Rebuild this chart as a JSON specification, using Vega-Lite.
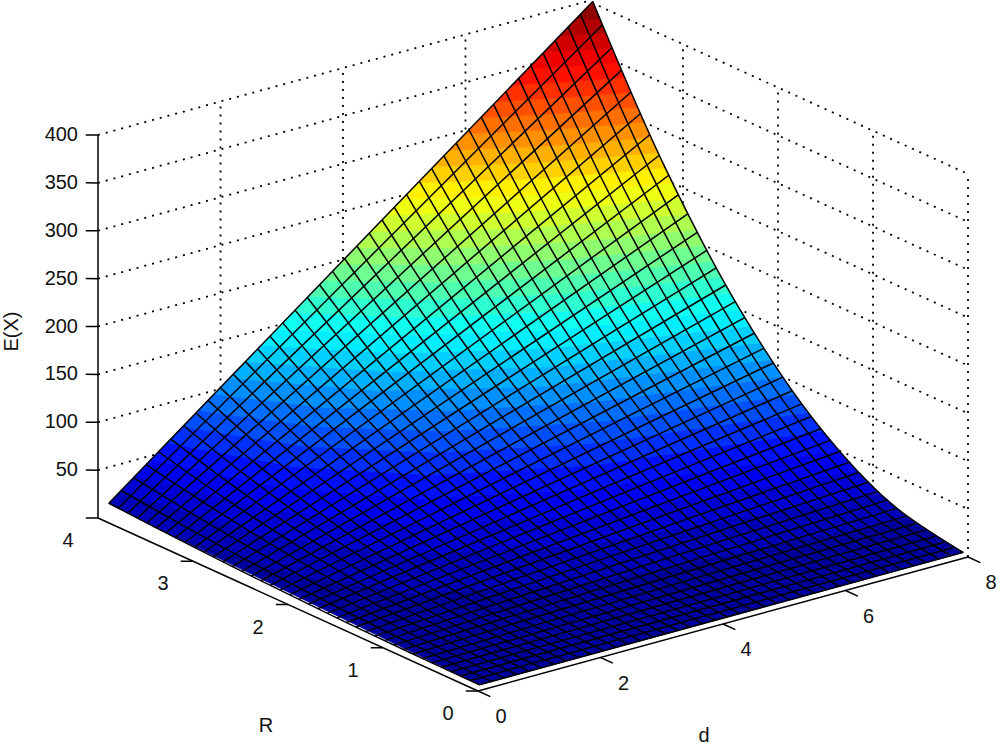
{"$schema":"https://vega.github.io/schema/vega-lite/v6.json","width":1000,"height":745,"padding":0,"autosize":"none","background":"white","config":{"view":{"stroke":null}},
"data":{"values":[
{"w":"h50","d":0,"R":4,"E":50},{"w":"h50","d":8,"R":4,"E":50},{"w":"h50","d":8,"R":0,"E":50},
{"w":"h100","d":0,"R":4,"E":100},{"w":"h100","d":8,"R":4,"E":100},{"w":"h100","d":8,"R":0,"E":100},
{"w":"h150","d":0,"R":4,"E":150},{"w":"h150","d":8,"R":4,"E":150},{"w":"h150","d":8,"R":0,"E":150},
{"w":"h200","d":0,"R":4,"E":200},{"w":"h200","d":8,"R":4,"E":200},{"w":"h200","d":8,"R":0,"E":200},
{"w":"h250","d":0,"R":4,"E":250},{"w":"h250","d":8,"R":4,"E":250},{"w":"h250","d":8,"R":0,"E":250},
{"w":"h300","d":0,"R":4,"E":300},{"w":"h300","d":8,"R":4,"E":300},{"w":"h300","d":8,"R":0,"E":300},
{"w":"h350","d":0,"R":4,"E":350},{"w":"h350","d":8,"R":4,"E":350},{"w":"h350","d":8,"R":0,"E":350},
{"w":"h400","d":0,"R":4,"E":400},{"w":"h400","d":8,"R":4,"E":400},{"w":"h400","d":8,"R":0,"E":400},
{"w":"v1","d":2,"R":4,"E":0},{"w":"v1","d":2,"R":4,"E":400},
{"w":"v2","d":4,"R":4,"E":0},{"w":"v2","d":4,"R":4,"E":400},
{"w":"v3","d":6,"R":4,"E":0},{"w":"v3","d":6,"R":4,"E":400},
{"w":"v4","d":8,"R":4,"E":0},{"w":"v4","d":8,"R":4,"E":400},
{"w":"v5","d":8,"R":3,"E":0},{"w":"v5","d":8,"R":3,"E":400},
{"w":"v6","d":8,"R":2,"E":0},{"w":"v6","d":8,"R":2,"E":400},
{"w":"v7","d":8,"R":1,"E":0},{"w":"v7","d":8,"R":1,"E":400},
{"w":"v8","d":8,"R":0,"E":0},{"w":"v8","d":8,"R":0,"E":400},
{"a":"ze","d":0,"R":4,"E":0},{"a":"ze","d":0,"R":4,"E":400},
{"a":"re","d":0,"R":0,"E":0},{"a":"re","d":0,"R":4,"E":0},
{"a":"de","d":0,"R":0,"E":0},{"a":"de","d":8,"R":0,"E":0},
{"a":"z0","d":0,"R":4,"E":0},{"a":"z0","d":-0.2,"R":4,"E":3.5},
{"a":"z50","d":0,"R":4,"E":50},{"a":"z50","d":-0.2,"R":4,"E":53.5},
{"a":"z100","d":0,"R":4,"E":100},{"a":"z100","d":-0.2,"R":4,"E":103.5},
{"a":"z150","d":0,"R":4,"E":150},{"a":"z150","d":-0.2,"R":4,"E":153.5},
{"a":"z200","d":0,"R":4,"E":200},{"a":"z200","d":-0.2,"R":4,"E":203.5},
{"a":"z250","d":0,"R":4,"E":250},{"a":"z250","d":-0.2,"R":4,"E":253.5},
{"a":"z300","d":0,"R":4,"E":300},{"a":"z300","d":-0.2,"R":4,"E":303.5},
{"a":"z350","d":0,"R":4,"E":350},{"a":"z350","d":-0.2,"R":4,"E":353.5},
{"a":"z400","d":0,"R":4,"E":400},{"a":"z400","d":-0.2,"R":4,"E":403.5},
{"a":"r0","d":0,"R":0,"E":0},{"a":"r0","d":-0.2,"R":0,"E":3.5},
{"a":"r1","d":0,"R":1,"E":0},{"a":"r1","d":-0.2,"R":1,"E":3.5},
{"a":"r2","d":0,"R":2,"E":0},{"a":"r2","d":-0.2,"R":2,"E":3.5},
{"a":"r3","d":0,"R":3,"E":0},{"a":"r3","d":-0.2,"R":3,"E":3.5},
{"a":"d0","d":0,"R":0,"E":0},{"a":"d0","d":0,"R":-0.13,"E":0},
{"a":"d2","d":2,"R":0,"E":0},{"a":"d2","d":2,"R":-0.13,"E":0},
{"a":"d4","d":4,"R":0,"E":0},{"a":"d4","d":4,"R":-0.13,"E":0},
{"a":"d6","d":6,"R":0,"E":0},{"a":"d6","d":6,"R":-0.13,"E":0},
{"a":"d8","d":8,"R":0,"E":0},{"a":"d8","d":8,"R":-0.13,"E":0},
{"t":"E","d":0,"R":4,"E":50,"l":"50"},{"t":"E","d":0,"R":4,"E":100,"l":"100"},{"t":"E","d":0,"R":4,"E":150,"l":"150"},{"t":"E","d":0,"R":4,"E":200,"l":"200"},{"t":"E","d":0,"R":4,"E":250,"l":"250"},{"t":"E","d":0,"R":4,"E":300,"l":"300"},{"t":"E","d":0,"R":4,"E":350,"l":"350"},{"t":"E","d":0,"R":4,"E":400,"l":"400"},
{"t":"R","d":0,"R":0,"E":0,"l":"0"},{"t":"R","d":0,"R":1,"E":0,"l":"1"},{"t":"R","d":0,"R":2,"E":0,"l":"2"},{"t":"R","d":0,"R":3,"E":0,"l":"3"},{"t":"R","d":0,"R":4,"E":0,"l":"4"},
{"t":"d","d":0,"R":0,"E":0,"l":"0"},{"t":"d","d":2,"R":0,"E":0,"l":"2"},{"t":"d","d":4,"R":0,"E":0,"l":"4"},{"t":"d","d":6,"R":0,"E":0,"l":"6"},{"t":"d","d":8,"R":0,"E":0,"l":"8"},
{"t":"tR","d":0,"R":2,"E":0,"l":"R"},{"t":"td","d":4,"R":0,"E":0,"l":"d"},{"t":"tE","d":0,"R":4,"E":200,"l":"E(X)"},
{"b":0,"d":0.1,"R":0.05,"E":2.5},{"b":0,"d":8,"R":0.05,"E":2.5},{"b":0,"d":8,"R":0.625,"E":12.5},{"b":0,"d":3.33,"R":0.955,"E":12.5},{"b":0,"d":1.323,"R":1.46,"E":12.5},{"b":0,"d":0.466,"R":2.231,"E":12.5},{"b":0,"d":0.1,"R":3.41,"E":12.5},
{"b":12.5,"d":0.1,"R":3.41,"E":12.5},{"b":12.5,"d":0.466,"R":2.231,"E":12.5},{"b":12.5,"d":1.323,"R":1.46,"E":12.5},{"b":12.5,"d":3.33,"R":0.955,"E":12.5},{"b":12.5,"d":8,"R":0.625,"E":12.5},{"b":12.5,"d":8,"R":0.938,"E":25},{"b":12.5,"d":3.81,"R":1.343,"E":25},{"b":12.5,"d":1.77,"R":1.924,"E":25},{"b":12.5,"d":0.77,"R":2.757,"E":25},{"b":12.5,"d":0.285,"R":3.95,"E":25},{"b":12.5,"d":0.1,"R":3.95,"E":15.92},
{"b":25,"d":0.285,"R":3.95,"E":25},{"b":25,"d":0.77,"R":2.757,"E":25},{"b":25,"d":1.77,"R":1.924,"E":25},{"b":25,"d":3.81,"R":1.343,"E":25},{"b":25,"d":8,"R":0.938,"E":25},{"b":25,"d":8,"R":1.17,"E":37.5},{"b":25,"d":4.27,"R":1.585,"E":37.5},{"b":25,"d":2.25,"R":2.149,"E":37.5},{"b":25,"d":1.14,"R":2.914,"E":37.5},{"b":25,"d":0.54,"R":3.95,"E":37.5},
{"b":37.5,"d":0.54,"R":3.95,"E":37.5},{"b":37.5,"d":1.14,"R":2.914,"E":37.5},{"b":37.5,"d":2.25,"R":2.149,"E":37.5},{"b":37.5,"d":4.27,"R":1.585,"E":37.5},{"b":37.5,"d":8,"R":1.17,"E":37.5},{"b":37.5,"d":8,"R":1.362,"E":50},{"b":37.5,"d":4.63,"R":1.777,"E":50},{"b":37.5,"d":2.65,"R":2.319,"E":50},{"b":37.5,"d":1.48,"R":3.025,"E":50},{"b":37.5,"d":0.797,"R":3.95,"E":50},
{"b":50,"d":0.797,"R":3.95,"E":50},{"b":50,"d":1.48,"R":3.025,"E":50},{"b":50,"d":2.65,"R":2.319,"E":50},{"b":50,"d":4.63,"R":1.777,"E":50},{"b":50,"d":8,"R":1.362,"E":50},{"b":50,"d":8,"R":1.531,"E":62.5},{"b":50,"d":4.91,"R":1.941,"E":62.5},{"b":50,"d":2.99,"R":2.459,"E":62.5},{"b":50,"d":1.8,"R":3.116,"E":62.5},{"b":50,"d":1.053,"R":3.95,"E":62.5},
{"b":62.5,"d":1.053,"R":3.95,"E":62.5},{"b":62.5,"d":1.8,"R":3.116,"E":62.5},{"b":62.5,"d":2.99,"R":2.459,"E":62.5},{"b":62.5,"d":4.91,"R":1.941,"E":62.5},{"b":62.5,"d":8,"R":1.531,"E":62.5},{"b":62.5,"d":8,"R":1.683,"E":75},{"b":62.5,"d":5.16,"R":2.083,"E":75},{"b":62.5,"d":3.31,"R":2.578,"E":75},{"b":62.5,"d":2.1,"R":3.191,"E":75},{"b":62.5,"d":1.309,"R":3.95,"E":75},
{"b":75,"d":1.309,"R":3.95,"E":75},{"b":75,"d":2.1,"R":3.191,"E":75},{"b":75,"d":3.31,"R":2.578,"E":75},{"b":75,"d":5.16,"R":2.083,"E":75},{"b":75,"d":8,"R":1.683,"E":75},{"b":75,"d":8,"R":1.823,"E":87.5},{"b":75,"d":5.38,"R":2.211,"E":87.5},{"b":75,"d":3.6,"R":2.683,"E":87.5},{"b":75,"d":2.39,"R":3.256,"E":87.5},{"b":75,"d":1.565,"R":3.95,"E":87.5},
{"b":87.5,"d":1.565,"R":3.95,"E":87.5},{"b":87.5,"d":2.39,"R":3.256,"E":87.5},{"b":87.5,"d":3.6,"R":2.683,"E":87.5},{"b":87.5,"d":5.38,"R":2.211,"E":87.5},{"b":87.5,"d":8,"R":1.823,"E":87.5},{"b":87.5,"d":8,"R":1.952,"E":100},{"b":87.5,"d":5.57,"R":2.328,"E":100},{"b":87.5,"d":3.87,"R":2.776,"E":100},{"b":87.5,"d":2.66,"R":3.312,"E":100},{"b":87.5,"d":1.821,"R":3.95,"E":100},
{"b":100,"d":1.821,"R":3.95,"E":100},{"b":100,"d":2.66,"R":3.312,"E":100},{"b":100,"d":3.87,"R":2.776,"E":100},{"b":100,"d":5.57,"R":2.328,"E":100},{"b":100,"d":8,"R":1.952,"E":100},{"b":100,"d":8,"R":2.073,"E":112.5},{"b":100,"d":5.15,"R":2.57,"E":112.5},{"b":100,"d":3.29,"R":3.186,"E":112.5},{"b":100,"d":2.077,"R":3.95,"E":112.5},
{"b":112.5,"d":2.077,"R":3.95,"E":112.5},{"b":112.5,"d":3.29,"R":3.186,"E":112.5},{"b":112.5,"d":5.15,"R":2.57,"E":112.5},{"b":112.5,"d":8,"R":2.073,"E":112.5},{"b":112.5,"d":8,"R":2.188,"E":125},{"b":112.5,"d":5.34,"R":2.663,"E":125},{"b":112.5,"d":3.55,"R":3.243,"E":125},{"b":112.5,"d":2.333,"R":3.95,"E":125},
{"b":125,"d":2.333,"R":3.95,"E":125},{"b":125,"d":3.55,"R":3.243,"E":125},{"b":125,"d":5.34,"R":2.663,"E":125},{"b":125,"d":8,"R":2.188,"E":125},{"b":125,"d":8,"R":2.297,"E":137.5},{"b":125,"d":5.52,"R":2.752,"E":137.5},{"b":125,"d":3.79,"R":3.297,"E":137.5},{"b":125,"d":2.589,"R":3.95,"E":137.5},
{"b":137.5,"d":2.589,"R":3.95,"E":137.5},{"b":137.5,"d":3.79,"R":3.297,"E":137.5},{"b":137.5,"d":5.52,"R":2.752,"E":137.5},{"b":137.5,"d":8,"R":2.297,"E":137.5},{"b":137.5,"d":8,"R":2.401,"E":150},{"b":137.5,"d":5.69,"R":2.834,"E":150},{"b":137.5,"d":4.04,"R":3.345,"E":150},{"b":137.5,"d":2.845,"R":3.95,"E":150},
{"b":150,"d":2.845,"R":3.95,"E":150},{"b":150,"d":4.04,"R":3.345,"E":150},{"b":150,"d":5.69,"R":2.834,"E":150},{"b":150,"d":8,"R":2.401,"E":150},{"b":150,"d":8,"R":2.5,"E":162.5},{"b":150,"d":5.85,"R":2.913,"E":162.5},{"b":150,"d":4.27,"R":3.391,"E":162.5},{"b":150,"d":3.101,"R":3.95,"E":162.5},
{"b":162.5,"d":3.101,"R":3.95,"E":162.5},{"b":162.5,"d":4.27,"R":3.391,"E":162.5},{"b":162.5,"d":5.85,"R":2.913,"E":162.5},{"b":162.5,"d":8,"R":2.5,"E":162.5},{"b":162.5,"d":8,"R":2.596,"E":175},{"b":162.5,"d":6.01,"R":2.986,"E":175},{"b":162.5,"d":4.5,"R":3.434,"E":175},{"b":162.5,"d":3.357,"R":3.95,"E":175},
{"b":175,"d":3.357,"R":3.95,"E":175},{"b":175,"d":4.5,"R":3.434,"E":175},{"b":175,"d":6.01,"R":2.986,"E":175},{"b":175,"d":8,"R":2.596,"E":175},{"b":175,"d":8,"R":2.689,"E":187.5},{"b":175,"d":6.15,"R":3.057,"E":187.5},{"b":175,"d":4.72,"R":3.475,"E":187.5},{"b":175,"d":3.613,"R":3.95,"E":187.5},
{"b":187.5,"d":3.613,"R":3.95,"E":187.5},{"b":187.5,"d":4.72,"R":3.475,"E":187.5},{"b":187.5,"d":6.15,"R":3.057,"E":187.5},{"b":187.5,"d":8,"R":2.689,"E":187.5},{"b":187.5,"d":8,"R":2.778,"E":200},{"b":187.5,"d":6.29,"R":3.125,"E":200},{"b":187.5,"d":4.94,"R":3.513,"E":200},{"b":187.5,"d":3.869,"R":3.95,"E":200},
{"b":200,"d":3.869,"R":3.95,"E":200},{"b":200,"d":4.94,"R":3.513,"E":200},{"b":200,"d":6.29,"R":3.125,"E":200},{"b":200,"d":8,"R":2.778,"E":200},{"b":200,"d":8,"R":2.865,"E":212.5},{"b":200,"d":6.42,"R":3.188,"E":212.5},{"b":200,"d":5.15,"R":3.548,"E":212.5},{"b":200,"d":4.125,"R":3.95,"E":212.5},
{"b":212.5,"d":4.125,"R":3.95,"E":212.5},{"b":212.5,"d":5.15,"R":3.548,"E":212.5},{"b":212.5,"d":6.42,"R":3.188,"E":212.5},{"b":212.5,"d":8,"R":2.865,"E":212.5},{"b":212.5,"d":8,"R":2.949,"E":225},{"b":212.5,"d":5.93,"R":3.413,"E":225},{"b":212.5,"d":4.38,"R":3.95,"E":225},
{"b":225,"d":4.38,"R":3.95,"E":225},{"b":225,"d":5.93,"R":3.413,"E":225},{"b":225,"d":8,"R":2.949,"E":225},{"b":225,"d":8,"R":3.03,"E":237.5},{"b":225,"d":6.1,"R":3.46,"E":237.5},{"b":225,"d":4.64,"R":3.95,"E":237.5},
{"b":237.5,"d":4.64,"R":3.95,"E":237.5},{"b":237.5,"d":6.1,"R":3.46,"E":237.5},{"b":237.5,"d":8,"R":3.03,"E":237.5},{"b":237.5,"d":8,"R":3.11,"E":250},{"b":237.5,"d":6.26,"R":3.505,"E":250},{"b":237.5,"d":4.89,"R":3.95,"E":250},
{"b":250,"d":4.89,"R":3.95,"E":250},{"b":250,"d":6.26,"R":3.505,"E":250},{"b":250,"d":8,"R":3.11,"E":250},{"b":250,"d":8,"R":3.187,"E":262.5},{"b":250,"d":6.42,"R":3.548,"E":262.5},{"b":250,"d":5.15,"R":3.95,"E":262.5},
{"b":262.5,"d":5.15,"R":3.95,"E":262.5},{"b":262.5,"d":6.42,"R":3.548,"E":262.5},{"b":262.5,"d":8,"R":3.187,"E":262.5},{"b":262.5,"d":8,"R":3.263,"E":275},{"b":262.5,"d":6.58,"R":3.59,"E":275},{"b":262.5,"d":5.4,"R":3.95,"E":275},
{"b":275,"d":5.4,"R":3.95,"E":275},{"b":275,"d":6.58,"R":3.59,"E":275},{"b":275,"d":8,"R":3.263,"E":275},{"b":275,"d":8,"R":3.337,"E":287.5},{"b":275,"d":6.73,"R":3.631,"E":287.5},{"b":275,"d":5.66,"R":3.95,"E":287.5},
{"b":287.5,"d":5.66,"R":3.95,"E":287.5},{"b":287.5,"d":6.73,"R":3.631,"E":287.5},{"b":287.5,"d":8,"R":3.337,"E":287.5},{"b":287.5,"d":8,"R":3.41,"E":300},{"b":287.5,"d":6.88,"R":3.67,"E":300},{"b":287.5,"d":5.92,"R":3.95,"E":300},
{"b":300,"d":5.92,"R":3.95,"E":300},{"b":300,"d":6.88,"R":3.67,"E":300},{"b":300,"d":8,"R":3.41,"E":300},{"b":300,"d":8,"R":3.48,"E":312.5},{"b":300,"d":7.03,"R":3.708,"E":312.5},{"b":300,"d":6.17,"R":3.95,"E":312.5},
{"b":312.5,"d":6.17,"R":3.95,"E":312.5},{"b":312.5,"d":7.03,"R":3.708,"E":312.5},{"b":312.5,"d":8,"R":3.48,"E":312.5},{"b":312.5,"d":8,"R":3.55,"E":325},{"b":312.5,"d":7.17,"R":3.744,"E":325},{"b":312.5,"d":6.43,"R":3.95,"E":325},
{"b":325,"d":6.43,"R":3.95,"E":325},{"b":325,"d":7.17,"R":3.744,"E":325},{"b":325,"d":8,"R":3.55,"E":325},{"b":325,"d":8,"R":3.618,"E":337.5},{"b":325,"d":7.31,"R":3.78,"E":337.5},{"b":325,"d":6.68,"R":3.95,"E":337.5},
{"b":337.5,"d":6.68,"R":3.95,"E":337.5},{"b":337.5,"d":7.31,"R":3.78,"E":337.5},{"b":337.5,"d":8,"R":3.618,"E":337.5},{"b":337.5,"d":8,"R":3.685,"E":350},{"b":337.5,"d":7.45,"R":3.815,"E":350},{"b":337.5,"d":6.94,"R":3.95,"E":350},
{"b":350,"d":6.94,"R":3.95,"E":350},{"b":350,"d":7.45,"R":3.815,"E":350},{"b":350,"d":8,"R":3.685,"E":350},{"b":350,"d":8,"R":3.751,"E":362.5},{"b":350,"d":7.59,"R":3.849,"E":362.5},{"b":350,"d":7.2,"R":3.95,"E":362.5},
{"b":362.5,"d":7.2,"R":3.95,"E":362.5},{"b":362.5,"d":7.59,"R":3.849,"E":362.5},{"b":362.5,"d":8,"R":3.751,"E":362.5},{"b":362.5,"d":8,"R":3.815,"E":375},{"b":362.5,"d":7.72,"R":3.882,"E":375},{"b":362.5,"d":7.45,"R":3.95,"E":375},
{"b":375,"d":7.45,"R":3.95,"E":375},{"b":375,"d":7.72,"R":3.882,"E":375},{"b":375,"d":8,"R":3.815,"E":375},{"b":375,"d":8,"R":3.879,"E":387.5},{"b":375,"d":7.85,"R":3.914,"E":387.5},{"b":375,"d":7.71,"R":3.95,"E":387.5},
{"b":387.5,"d":7.71,"R":3.95,"E":387.5},{"b":387.5,"d":7.85,"R":3.914,"E":387.5},{"b":387.5,"d":8,"R":3.879,"E":387.5},{"b":387.5,"d":8,"R":3.95,"E":401.7},
{"r":"0","d":0.1,"R":0.05,"E":2.5},{"r":"0","d":8,"R":0.05,"E":2.56},{"r":"1","d":0.1,"R":0.15,"E":2.52},{"r":"1","d":8,"R":0.15,"E":3.08},{"r":"2","d":0.1,"R":0.25,"E":2.55},{"r":"2","d":8,"R":0.25,"E":4.1},{"r":"3","d":0.1,"R":0.35,"E":2.61},{"r":"3","d":8,"R":0.35,"E":5.63},{"r":"4","d":0.1,"R":0.45,"E":2.67},{"r":"4","d":8,"R":0.45,"E":7.68},{"r":"5","d":0.1,"R":0.55,"E":2.76},{"r":"5","d":8,"R":0.55,"E":10.24},{"r":"6","d":0.1,"R":0.65,"E":2.86},{"r":"6","d":8,"R":0.65,"E":13.31},{"r":"7","d":0.1,"R":0.75,"E":2.98},{"r":"7","d":8,"R":0.75,"E":16.89},{"r":"8","d":0.1,"R":0.85,"E":3.12},{"r":"8","d":8,"R":0.85,"E":20.99},{"r":"9","d":0.1,"R":0.95,"E":3.28},{"r":"9","d":8,"R":0.95,"E":25.59},
{"r":"10","d":0.1,"R":1.05,"E":3.45},{"r":"10","d":8,"R":1.05,"E":30.71},{"r":"11","d":0.1,"R":1.15,"E":3.64},{"r":"11","d":8,"R":1.15,"E":36.34},{"r":"12","d":0.1,"R":1.25,"E":3.84},{"r":"12","d":8,"R":1.25,"E":42.48},{"r":"13","d":0.1,"R":1.35,"E":4.07},{"r":"13","d":8,"R":1.35,"E":49.14},{"r":"14","d":0.1,"R":1.45,"E":4.31},{"r":"14","d":8,"R":1.45,"E":56.3},{"r":"15","d":0.1,"R":1.55,"E":4.57},{"r":"15","d":8,"R":1.55,"E":63.98},{"r":"16","d":0.1,"R":1.65,"E":4.84},{"r":"16","d":8,"R":1.65,"E":72.17},{"r":"17","d":0.1,"R":1.75,"E":5.13},{"r":"17","d":8,"R":1.75,"E":80.87},{"r":"18","d":0.1,"R":1.85,"E":5.44},{"r":"18","d":8,"R":1.85,"E":90.08},{"r":"19","d":0.1,"R":1.95,"E":5.77},{"r":"19","d":8,"R":1.95,"E":99.81},
{"r":"20","d":0.1,"R":2.05,"E":6.11},{"r":"20","d":8,"R":2.05,"E":110.04},{"r":"21","d":0.1,"R":2.15,"E":6.48},{"r":"21","d":8,"R":2.15,"E":120.79},{"r":"22","d":0.1,"R":2.25,"E":6.85},{"r":"22","d":8,"R":2.25,"E":132.05},{"r":"23","d":0.1,"R":2.35,"E":7.25},{"r":"23","d":8,"R":2.35,"E":143.82},{"r":"24","d":0.1,"R":2.45,"E":7.66},{"r":"24","d":8,"R":2.45,"E":156.1},{"r":"25","d":0.1,"R":2.55,"E":8.09},{"r":"25","d":8,"R":2.55,"E":168.9},{"r":"26","d":0.1,"R":2.65,"E":8.54},{"r":"26","d":8,"R":2.65,"E":182.2},{"r":"27","d":0.1,"R":2.75,"E":9},{"r":"27","d":8,"R":2.75,"E":196},{"r":"28","d":0.1,"R":2.85,"E":9.49},{"r":"28","d":8,"R":2.85,"E":210.4},{"r":"29","d":0.1,"R":2.95,"E":9.98},{"r":"29","d":8,"R":2.95,"E":225.2},
{"r":"30","d":0.1,"R":3.05,"E":10.5},{"r":"30","d":8,"R":3.05,"E":240.5},{"r":"31","d":0.1,"R":3.15,"E":11.03},{"r":"31","d":8,"R":3.15,"E":256.4},{"r":"32","d":0.1,"R":3.25,"E":11.58},{"r":"32","d":8,"R":3.25,"E":272.8},{"r":"33","d":0.1,"R":3.35,"E":12.15},{"r":"33","d":8,"R":3.35,"E":289.7},{"r":"34","d":0.1,"R":3.45,"E":12.74},{"r":"34","d":8,"R":3.45,"E":307.1},{"r":"35","d":0.1,"R":3.55,"E":13.34},{"r":"35","d":8,"R":3.55,"E":325},{"r":"36","d":0.1,"R":3.65,"E":13.96},{"r":"36","d":8,"R":3.65,"E":343.4},{"r":"37","d":0.1,"R":3.75,"E":14.59},{"r":"37","d":8,"R":3.75,"E":362.4},{"r":"38","d":0.1,"R":3.85,"E":15.25},{"r":"38","d":8,"R":3.85,"E":381.8},{"r":"39","d":0.1,"R":3.95,"E":15.92},{"r":"39","d":8,"R":3.95,"E":401.8},
{"m":"0","d":0.1,"R":0.05,"E":2.5},{"m":"0","d":0.1,"R":0.8,"E":3.05},{"m":"0","d":0.1,"R":1.6,"E":4.7},{"m":"0","d":0.1,"R":2.4,"E":7.45},{"m":"0","d":0.1,"R":3.2,"E":11.31},{"m":"0","d":0.1,"R":3.95,"E":15.92},
{"m":"1","d":0.3,"R":0.05,"E":2.5},{"m":"1","d":0.3,"R":0.8,"E":3.45},{"m":"1","d":0.3,"R":1.6,"E":6.31},{"m":"1","d":0.3,"R":2.4,"E":11.08},{"m":"1","d":0.3,"R":3.2,"E":17.76},{"m":"1","d":0.3,"R":3.95,"E":25.74},
{"m":"2","d":0.5,"R":0.05,"E":2.5},{"m":"2","d":0.5,"R":0.8,"E":3.86},{"m":"2","d":0.5,"R":1.6,"E":7.93},{"m":"2","d":0.5,"R":2.4,"E":14.71},{"m":"2","d":0.5,"R":3.2,"E":24.21},{"m":"2","d":0.5,"R":3.95,"E":35.57},
{"m":"3","d":0.71,"R":0.05,"E":2.5},{"m":"3","d":0.71,"R":0.8,"E":4.27},{"m":"3","d":0.71,"R":1.6,"E":9.59},{"m":"3","d":0.71,"R":2.4,"E":18.46},{"m":"3","d":0.71,"R":3.2,"E":30.86},{"m":"3","d":0.71,"R":3.95,"E":45.71},
{"m":"4","d":0.91,"R":0.05,"E":2.5},{"m":"4","d":0.91,"R":0.8,"E":4.68},{"m":"4","d":0.91,"R":1.6,"E":11.2},{"m":"4","d":0.91,"R":2.4,"E":22.08},{"m":"4","d":0.91,"R":3.2,"E":37.32},{"m":"4","d":0.91,"R":3.95,"E":55.54},
{"m":"5","d":1.11,"R":0.05,"E":2.5},{"m":"5","d":1.11,"R":0.8,"E":5.07},{"m":"5","d":1.11,"R":1.6,"E":12.79},{"m":"5","d":1.11,"R":2.4,"E":25.66},{"m":"5","d":1.11,"R":3.2,"E":43.66},{"m":"5","d":1.11,"R":3.95,"E":65.21},
{"m":"6","d":1.32,"R":0.05,"E":2.5},{"m":"6","d":1.32,"R":0.8,"E":5.5},{"m":"6","d":1.32,"R":1.6,"E":14.48},{"m":"6","d":1.32,"R":2.4,"E":29.46},{"m":"6","d":1.32,"R":3.2,"E":50.42},{"m":"6","d":1.32,"R":3.95,"E":75.51},
{"m":"7","d":1.52,"R":0.05,"E":2.5},{"m":"7","d":1.52,"R":0.8,"E":5.9},{"m":"7","d":1.52,"R":1.6,"E":16.09},{"m":"7","d":1.52,"R":2.4,"E":33.09},{"m":"7","d":1.52,"R":3.2,"E":56.87},{"m":"7","d":1.52,"R":3.95,"E":85.34},
{"m":"8","d":1.72,"R":0.05,"E":2.5},{"m":"8","d":1.72,"R":0.8,"E":6.3},{"m":"8","d":1.72,"R":1.6,"E":17.68},{"m":"8","d":1.72,"R":2.4,"E":36.66},{"m":"8","d":1.72,"R":3.2,"E":63.22},{"m":"8","d":1.72,"R":3.95,"E":95},
{"m":"9","d":1.92,"R":0.05,"E":2.5},{"m":"9","d":1.92,"R":0.8,"E":6.7},{"m":"9","d":1.92,"R":1.6,"E":19.29},{"m":"9","d":1.92,"R":2.4,"E":40.29},{"m":"9","d":1.92,"R":3.2,"E":69.67},{"m":"9","d":1.92,"R":3.95,"E":104.8},
{"m":"10","d":2.13,"R":0.05,"E":2.5},{"m":"10","d":2.13,"R":0.8,"E":7.12},{"m":"10","d":2.13,"R":1.6,"E":20.98},{"m":"10","d":2.13,"R":2.4,"E":44.09},{"m":"10","d":2.13,"R":3.2,"E":76.43},{"m":"10","d":2.13,"R":3.95,"E":115.1},
{"m":"11","d":2.33,"R":0.05,"E":2.5},{"m":"11","d":2.33,"R":0.8,"E":7.52},{"m":"11","d":2.33,"R":1.6,"E":22.57},{"m":"11","d":2.33,"R":2.4,"E":47.66},{"m":"11","d":2.33,"R":3.2,"E":82.78},{"m":"11","d":2.33,"R":3.95,"E":124.8},
{"m":"12","d":2.53,"R":0.05,"E":2.5},{"m":"12","d":2.53,"R":0.8,"E":7.92},{"m":"12","d":2.53,"R":1.6,"E":24.18},{"m":"12","d":2.53,"R":2.4,"E":51.29},{"m":"12","d":2.53,"R":3.2,"E":89.23},{"m":"12","d":2.53,"R":3.95,"E":134.6},
{"m":"13","d":2.73,"R":0.05,"E":2.5},{"m":"13","d":2.73,"R":0.8,"E":8.32},{"m":"13","d":2.73,"R":1.6,"E":25.77},{"m":"13","d":2.73,"R":2.4,"E":54.86},{"m":"13","d":2.73,"R":3.2,"E":95.58},{"m":"13","d":2.73,"R":3.95,"E":144.3},
{"m":"14","d":2.94,"R":0.05,"E":2.5},{"m":"14","d":2.94,"R":0.8,"E":8.74},{"m":"14","d":2.94,"R":1.6,"E":27.46},{"m":"14","d":2.94,"R":2.4,"E":58.66},{"m":"14","d":2.94,"R":3.2,"E":102.3},{"m":"14","d":2.94,"R":3.95,"E":154.6},
{"m":"15","d":3.14,"R":0.05,"E":2.5},{"m":"15","d":3.14,"R":0.8,"E":9.14},{"m":"15","d":3.14,"R":1.6,"E":29.07},{"m":"15","d":3.14,"R":2.4,"E":62.29},{"m":"15","d":3.14,"R":3.2,"E":108.8},{"m":"15","d":3.14,"R":3.95,"E":164.4},
{"m":"16","d":3.34,"R":0.05,"E":2.5},{"m":"16","d":3.34,"R":0.8,"E":9.54},{"m":"16","d":3.34,"R":1.6,"E":30.66},{"m":"16","d":3.34,"R":2.4,"E":65.86},{"m":"16","d":3.34,"R":3.2,"E":115.1},{"m":"16","d":3.34,"R":3.95,"E":174.1},
{"m":"17","d":3.54,"R":0.05,"E":2.5},{"m":"17","d":3.54,"R":0.8,"E":9.94},{"m":"17","d":3.54,"R":1.6,"E":32.27},{"m":"17","d":3.54,"R":2.4,"E":69.49},{"m":"17","d":3.54,"R":3.2,"E":121.6},{"m":"17","d":3.54,"R":3.95,"E":183.9},
{"m":"18","d":3.75,"R":0.05,"E":2.5},{"m":"18","d":3.75,"R":0.8,"E":10.37},{"m":"18","d":3.75,"R":1.6,"E":33.96},{"m":"18","d":3.75,"R":2.4,"E":73.29},{"m":"18","d":3.75,"R":3.2,"E":128.3},{"m":"18","d":3.75,"R":3.95,"E":194.2},
{"m":"19","d":3.95,"R":0.05,"E":2.5},{"m":"19","d":3.95,"R":0.8,"E":10.76},{"m":"19","d":3.95,"R":1.6,"E":35.55},{"m":"19","d":3.95,"R":2.4,"E":76.86},{"m":"19","d":3.95,"R":3.2,"E":134.7},{"m":"19","d":3.95,"R":3.95,"E":203.9},
{"m":"20","d":4.15,"R":0.05,"E":2.5},{"m":"20","d":4.15,"R":0.8,"E":11.17},{"m":"20","d":4.15,"R":1.6,"E":37.16},{"m":"20","d":4.15,"R":2.4,"E":80.49},{"m":"20","d":4.15,"R":3.2,"E":141.1},{"m":"20","d":4.15,"R":3.95,"E":213.7},
{"m":"21","d":4.35,"R":0.05,"E":2.5},{"m":"21","d":4.35,"R":0.8,"E":11.57},{"m":"21","d":4.35,"R":1.6,"E":38.78},{"m":"21","d":4.35,"R":2.4,"E":84.12},{"m":"21","d":4.35,"R":3.2,"E":147.6},{"m":"21","d":4.35,"R":3.95,"E":223.6},
{"m":"22","d":4.56,"R":0.05,"E":2.5},{"m":"22","d":4.56,"R":0.8,"E":11.98},{"m":"22","d":4.56,"R":1.6,"E":40.44},{"m":"22","d":4.56,"R":2.4,"E":87.86},{"m":"22","d":4.56,"R":3.2,"E":154.3},{"m":"22","d":4.56,"R":3.95,"E":233.7},
{"m":"23","d":4.76,"R":0.05,"E":2.5},{"m":"23","d":4.76,"R":0.8,"E":12.39},{"m":"23","d":4.76,"R":1.6,"E":42.05},{"m":"23","d":4.76,"R":2.4,"E":91.49},{"m":"23","d":4.76,"R":3.2,"E":160.7},{"m":"23","d":4.76,"R":3.95,"E":243.5},
{"m":"24","d":4.96,"R":0.05,"E":2.5},{"m":"24","d":4.96,"R":0.8,"E":12.78},{"m":"24","d":4.96,"R":1.6,"E":43.64},{"m":"24","d":4.96,"R":2.4,"E":95.06},{"m":"24","d":4.96,"R":3.2,"E":167},{"m":"24","d":4.96,"R":3.95,"E":253.2},
{"m":"25","d":5.17,"R":0.05,"E":2.5},{"m":"25","d":5.17,"R":0.8,"E":13.21},{"m":"25","d":5.17,"R":1.6,"E":45.33},{"m":"25","d":5.17,"R":2.4,"E":98.86},{"m":"25","d":5.17,"R":3.2,"E":173.8},{"m":"25","d":5.17,"R":3.95,"E":263.5},
{"m":"26","d":5.37,"R":0.05,"E":2.5},{"m":"26","d":5.37,"R":0.8,"E":13.61},{"m":"26","d":5.37,"R":1.6,"E":46.94},{"m":"26","d":5.37,"R":2.4,"E":102.5},{"m":"26","d":5.37,"R":3.2,"E":180.3},{"m":"26","d":5.37,"R":3.95,"E":273.3},
{"m":"27","d":5.57,"R":0.05,"E":2.5},{"m":"27","d":5.57,"R":0.8,"E":14.01},{"m":"27","d":5.57,"R":1.6,"E":48.53},{"m":"27","d":5.57,"R":2.4,"E":106},{"m":"27","d":5.57,"R":3.2,"E":186.6},{"m":"27","d":5.57,"R":3.95,"E":283},
{"m":"28","d":5.77,"R":0.05,"E":2.5},{"m":"28","d":5.77,"R":0.8,"E":14.41},{"m":"28","d":5.77,"R":1.6,"E":50.14},{"m":"28","d":5.77,"R":2.4,"E":109.7},{"m":"28","d":5.77,"R":3.2,"E":193.1},{"m":"28","d":5.77,"R":3.95,"E":292.8},
{"m":"29","d":5.98,"R":0.05,"E":2.5},{"m":"29","d":5.98,"R":0.8,"E":14.83},{"m":"29","d":5.98,"R":1.6,"E":51.83},{"m":"29","d":5.98,"R":2.4,"E":113.5},{"m":"29","d":5.98,"R":3.2,"E":199.8},{"m":"29","d":5.98,"R":3.95,"E":303.1},
{"m":"30","d":6.18,"R":0.05,"E":2.5},{"m":"30","d":6.18,"R":0.8,"E":15.23},{"m":"30","d":6.18,"R":1.6,"E":53.42},{"m":"30","d":6.18,"R":2.4,"E":117.1},{"m":"30","d":6.18,"R":3.2,"E":206.2},{"m":"30","d":6.18,"R":3.95,"E":312.8},
{"m":"31","d":6.38,"R":0.05,"E":2.5},{"m":"31","d":6.38,"R":0.8,"E":15.63},{"m":"31","d":6.38,"R":1.6,"E":55.03},{"m":"31","d":6.38,"R":2.4,"E":120.7},{"m":"31","d":6.38,"R":3.2,"E":212.6},{"m":"31","d":6.38,"R":3.95,"E":322.6},
{"m":"32","d":6.58,"R":0.05,"E":2.5},{"m":"32","d":6.58,"R":0.8,"E":16.04},{"m":"32","d":6.58,"R":1.6,"E":56.64},{"m":"32","d":6.58,"R":2.4,"E":124.3},{"m":"32","d":6.58,"R":3.2,"E":219.1},{"m":"32","d":6.58,"R":3.95,"E":332.4},
{"m":"33","d":6.79,"R":0.05,"E":2.5},{"m":"33","d":6.79,"R":0.8,"E":16.45},{"m":"33","d":6.79,"R":1.6,"E":58.31},{"m":"33","d":6.79,"R":2.4,"E":128.1},{"m":"33","d":6.79,"R":3.2,"E":225.7},{"m":"33","d":6.79,"R":3.95,"E":342.6},
{"m":"34","d":6.99,"R":0.05,"E":2.5},{"m":"34","d":6.99,"R":0.8,"E":16.86},{"m":"34","d":6.99,"R":1.6,"E":59.92},{"m":"34","d":6.99,"R":2.4,"E":131.7},{"m":"34","d":6.99,"R":3.2,"E":232.2},{"m":"34","d":6.99,"R":3.95,"E":352.4},
{"m":"35","d":7.19,"R":0.05,"E":2.5},{"m":"35","d":7.19,"R":0.8,"E":17.25},{"m":"35","d":7.19,"R":1.6,"E":61.51},{"m":"35","d":7.19,"R":2.4,"E":135.3},{"m":"35","d":7.19,"R":3.2,"E":238.5},{"m":"35","d":7.19,"R":3.95,"E":362.1},
{"m":"36","d":7.39,"R":0.05,"E":2.5},{"m":"36","d":7.39,"R":0.8,"E":17.66},{"m":"36","d":7.39,"R":1.6,"E":63.12},{"m":"36","d":7.39,"R":2.4,"E":138.9},{"m":"36","d":7.39,"R":3.2,"E":245},{"m":"36","d":7.39,"R":3.95,"E":371.9},
{"m":"37","d":7.6,"R":0.05,"E":2.5},{"m":"37","d":7.6,"R":0.8,"E":18.08},{"m":"37","d":7.6,"R":1.6,"E":64.81},{"m":"37","d":7.6,"R":2.4,"E":142.7},{"m":"37","d":7.6,"R":3.2,"E":251.7},{"m":"37","d":7.6,"R":3.95,"E":382.2},
{"m":"38","d":7.8,"R":0.05,"E":2.5},{"m":"38","d":7.8,"R":0.8,"E":18.47},{"m":"38","d":7.8,"R":1.6,"E":66.4},{"m":"38","d":7.8,"R":2.4,"E":146.3},{"m":"38","d":7.8,"R":3.2,"E":258.1},{"m":"38","d":7.8,"R":3.95,"E":391.9},
{"m":"39","d":8,"R":0.05,"E":2.5},{"m":"39","d":8,"R":0.8,"E":18.88},{"m":"39","d":8,"R":1.6,"E":68.01},{"m":"39","d":8,"R":2.4,"E":149.9},{"m":"39","d":8,"R":3.2,"E":264.5},{"m":"39","d":8,"R":3.95,"E":401.7}
]},
"transform":[{"calculate":"478+61.25*datum.d-95*datum.R","as":"x"},{"calculate":"691-16.75*datum.d-43.25*datum.R-0.9575*datum.E","as":"y"}],
"encoding":{"x":{"field":"x","type":"quantitative","scale":{"domain":[0,1000]},"axis":null},"y":{"field":"y","type":"quantitative","scale":{"domain":[0,745],"reverse":true},"axis":null}},
"layer":[
{"transform":[{"filter":"isValid(datum.w)"}],"mark":{"type":"line","order":false,"color":"black","strokeWidth":1.8,"strokeDash":[2,6]},"encoding":{"detail":{"field":"w"}}},
{"transform":[{"filter":"isValid(datum.a)"}],"mark":{"type":"line","order":false,"color":"black","strokeWidth":1.5},"encoding":{"detail":{"field":"a"}}},
{"transform":[{"filter":"isValid(datum.b)"}],"mark":{"type":"line","order":false,"strokeWidth":0.8,"interpolate":"linear-closed"},"encoding":{"detail":{"field":"b"},"fill":{"field":"b","type":"quantitative","legend":null,"scale":{"domain":[-6,44,144,244,344,394],"range":["#00008f","#0000ff","#00ffff","#ffff00","#ff0000","#800000"],"interpolate":"rgb"}},"stroke":{"field":"b","type":"quantitative","legend":null,"scale":{"domain":[-6,44,144,244,344,394],"range":["#00008f","#0000ff","#00ffff","#ffff00","#ff0000","#800000"],"interpolate":"rgb"}}}},
{"transform":[{"filter":"isValid(datum.r)"}],"mark":{"type":"line","order":false,"color":"black","strokeWidth":1.5},"encoding":{"detail":{"field":"r"}}},
{"transform":[{"filter":"isValid(datum.m)"}],"mark":{"type":"line","order":false,"color":"black","strokeWidth":1.5,"interpolate":"catmull-rom"},"encoding":{"detail":{"field":"m"}}},
{"transform":[{"filter":"datum.t==='E'"}],"mark":{"type":"text","font":"Liberation Sans","fontSize":20,"color":"#111","align":"right","baseline":"middle","dx":-20},"encoding":{"text":{"field":"l"}}},
{"transform":[{"filter":"datum.t==='R'"}],"mark":{"type":"text","font":"Liberation Sans","fontSize":20,"color":"#111","align":"center","baseline":"middle","dx":-30,"dy":23},"encoding":{"text":{"field":"l"}}},
{"transform":[{"filter":"datum.t==='d'"}],"mark":{"type":"text","font":"Liberation Sans","fontSize":20,"color":"#111","align":"center","baseline":"middle","dx":23,"dy":26},"encoding":{"text":{"field":"l"}}},
{"transform":[{"filter":"datum.t==='tR'"}],"mark":{"type":"text","font":"Liberation Sans","fontSize":20,"color":"#111","align":"center","baseline":"middle","dx":-22,"dy":121},"encoding":{"text":{"field":"l"}}},
{"transform":[{"filter":"datum.t==='td'"}],"mark":{"type":"text","font":"Liberation Sans","fontSize":20,"color":"#111","align":"center","baseline":"middle","dx":-19,"dy":112},"encoding":{"text":{"field":"l"}}},
{"transform":[{"filter":"datum.t==='tE'"}],"mark":{"type":"text","font":"Liberation Sans","fontSize":20,"color":"#111","align":"center","baseline":"middle","angle":270,"dx":-5,"dy":-86},"encoding":{"text":{"field":"l"}}}
]}
